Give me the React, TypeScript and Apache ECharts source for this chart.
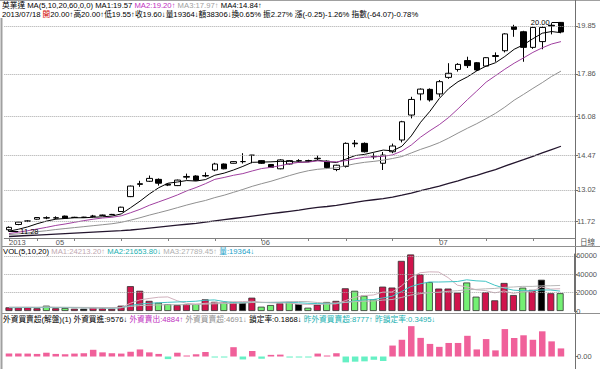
import React, { useEffect, useRef } from 'react';
import * as echarts from 'echarts';

const FONT = '"Liberation Sans", "Noto Sans CJK TC", sans-serif';

const dates = ['2013/04/24','2013/04/25','2013/04/26','2013/04/29','2013/04/30','2013/05/02','2013/05/03','2013/05/06','2013/05/07','2013/05/08','2013/05/09','2013/05/10','2013/05/13','2013/05/14','2013/05/15','2013/05/16','2013/05/17','2013/05/20','2013/05/21','2013/05/22','2013/05/23','2013/05/24','2013/05/27','2013/05/28','2013/05/29','2013/05/30','2013/05/31','2013/06/03','2013/06/04','2013/06/05','2013/06/06','2013/06/07','2013/06/10','2013/06/11','2013/06/13','2013/06/14','2013/06/17','2013/06/18','2013/06/19','2013/06/20','2013/06/21','2013/06/24','2013/06/25','2013/06/26','2013/06/27','2013/06/28','2013/07/01','2013/07/02','2013/07/03','2013/07/04','2013/07/05','2013/07/08','2013/07/09','2013/07/10','2013/07/11','2013/07/12','2013/07/15','2013/07/16','2013/07/17','2013/07/18'];

const monthLabelIdx = [0, 5, 27, 46];
const monthLabels = ['2013', '05', '06', '07'];
const weekTickIdx = [0, 3, 7, 12, 17, 22, 27, 32, 36, 41, 46, 51, 56];

// [open, close, low, high]
const ohlc = [
  [11.36, 11.46, 11.28, 11.50], [11.58, 11.68, 11.55, 11.70], [11.71, 11.73, 11.68, 11.76], [11.80, 11.87, 11.78, 11.88],
  [11.86, 11.85, 11.80, 11.92], [11.85, 11.86, 11.80, 11.92], [11.93, 11.84, 11.82, 11.95], [11.87, 11.88, 11.85, 11.90],
  [11.88, 11.88, 11.86, 11.90], [11.92, 11.93, 11.88, 11.98], [11.96, 11.97, 11.94, 11.99], [11.99, 12.00, 11.97, 12.02],
  [12.12, 12.30, 12.10, 12.32], [12.74, 13.18, 12.72, 13.20], [13.25, 13.28, 13.15, 13.40], [13.38, 13.50, 13.35, 13.62],
  [13.46, 13.30, 13.20, 13.50], [13.26, 13.22, 13.18, 13.28], [13.20, 13.43, 13.18, 13.45], [13.55, 13.58, 13.45, 13.70],
  [13.60, 13.42, 13.40, 13.63], [13.60, 13.62, 13.55, 13.75], [13.85, 14.10, 13.80, 14.15], [14.10, 13.90, 13.88, 14.12],
  [14.13, 14.20, 14.12, 14.22], [14.20, 14.20, 14.12, 14.55], [14.46, 14.47, 14.13, 14.48], [14.24, 14.13, 14.10, 14.26],
  [14.08, 13.96, 13.94, 14.10], [13.90, 14.27, 13.88, 14.30], [14.10, 14.24, 14.08, 14.26], [14.22, 14.24, 14.18, 14.30],
  [14.24, 14.22, 14.18, 14.28], [14.32, 14.34, 14.25, 14.45], [14.22, 13.95, 13.90, 14.25], [13.87, 14.05, 13.80, 14.07],
  [14.00, 14.96, 13.95, 15.00], [14.97, 14.94, 14.80, 15.10], [14.96, 14.61, 14.58, 15.00], [14.42, 14.40, 14.30, 14.55],
  [14.13, 14.47, 13.85, 14.60], [14.61, 14.85, 14.55, 14.95], [15.10, 15.86, 15.00, 15.90], [16.14, 16.79, 16.00, 16.90],
  [17.02, 17.22, 16.75, 17.25], [17.21, 16.77, 16.70, 17.25], [17.02, 17.53, 16.90, 17.60], [17.71, 17.88, 17.65, 18.30],
  [18.04, 18.25, 17.95, 18.30], [18.41, 18.20, 18.10, 18.57], [18.32, 18.02, 17.98, 18.35], [18.18, 18.53, 18.15, 18.55],
  [18.58, 18.62, 18.36, 18.75], [18.82, 19.52, 18.75, 19.55], [19.82, 19.71, 19.40, 19.90], [19.61, 18.96, 18.36, 19.65],
  [18.96, 19.79, 18.90, 19.82], [19.20, 19.79, 18.88, 19.85], [19.88, 19.85, 19.50, 19.97], [20.00, 19.60, 19.55, 20.00],
];

const ma5 = [11.30, 11.38, 11.48, 11.61, 11.72, 11.80, 11.83, 11.86, 11.86, 11.88, 11.90, 11.93, 12.02, 12.28, 12.55, 12.85, 13.11, 13.30, 13.35, 13.41, 13.39, 13.45, 13.63, 13.72, 13.85, 14.00, 14.17, 14.18, 14.19, 14.21, 14.21, 14.17, 14.19, 14.26, 14.20, 14.16, 14.30, 14.45, 14.50, 14.59, 14.68, 14.65, 14.84, 15.27, 15.84, 16.30, 16.83, 17.24, 17.53, 17.73, 17.98, 18.18, 18.32, 18.58, 18.88, 19.07, 19.32, 19.55, 19.62, 19.57];
const ma10 = [11.20, 11.26, 11.32, 11.39, 11.46, 11.54, 11.60, 11.67, 11.74, 11.80, 11.85, 11.88, 11.94, 12.07, 12.21, 12.38, 12.52, 12.66, 12.81, 12.98, 13.12, 13.28, 13.46, 13.54, 13.63, 13.70, 13.81, 13.91, 13.96, 14.03, 14.11, 14.17, 14.18, 14.23, 14.20, 14.19, 14.24, 14.32, 14.38, 14.40, 14.42, 14.48, 14.64, 14.89, 15.22, 15.49, 15.74, 16.04, 16.40, 16.78, 17.14, 17.51, 17.78, 18.05, 18.30, 18.52, 18.75, 18.94, 19.10, 19.20];
const ma20 = [11.16, 11.19, 11.23, 11.28, 11.32, 11.37, 11.41, 11.45, 11.49, 11.53, 11.57, 11.61, 11.67, 11.76, 11.86, 11.97, 12.07, 12.17, 12.28, 12.39, 12.49, 12.58, 12.70, 12.80, 12.92, 13.04, 13.17, 13.28, 13.38, 13.50, 13.62, 13.73, 13.82, 13.88, 13.91, 13.94, 14.03, 14.11, 14.17, 14.21, 14.26, 14.33, 14.41, 14.56, 14.71, 14.84, 14.99, 15.18, 15.39, 15.59, 15.78, 15.99, 16.21, 16.47, 16.76, 17.00, 17.25, 17.49, 17.75, 17.97];
const ma60 = [11.08, 11.10, 11.12, 11.14, 11.16, 11.18, 11.20, 11.22, 11.24, 11.26, 11.28, 11.30, 11.32, 11.35, 11.39, 11.43, 11.47, 11.51, 11.55, 11.59, 11.63, 11.68, 11.73, 11.78, 11.83, 11.88, 11.93, 11.98, 12.03, 12.08, 12.13, 12.18, 12.24, 12.29, 12.33, 12.38, 12.44, 12.50, 12.56, 12.61, 12.66, 12.72, 12.80, 12.89, 12.99, 13.08, 13.18, 13.29, 13.40, 13.52, 13.63, 13.75, 13.87, 14.01, 14.15, 14.28, 14.42, 14.56, 14.70, 14.84];

const priceTicks = [11.72, 13.02, 14.47, 16.08, 17.86, 19.85];
const priceHigh = 20.0;
const priceLow = 11.28;

const volume = [4000, 4000, 4000, 3000, 5800, 3000, 3300, 2500, 2500, 4000, 3000, 2500, 5800, 27000, 22000, 11000, 9000, 7500, 6500, 7500, 7500, 12700, 10000, 9800, 9800, 9000, 14500, 4700, 6500, 8400, 9800, 7600, 3600, 6900, 9800, 11000, 24700, 22000, 16700, 12700, 26500, 25500, 54500, 61500, 40000, 31451, 24400, 24400, 20000, 31000, 15600, 20400, 11600, 30500, 17372, 25400, 23000, 34000, 19302, 19364];
// r = up, g = down, k = unchanged
const volDir = ['r','r','r','r','g','r','g','r','k','r','r','r','r','r','r','r','g','g','r','r','g','r','r','g','r','k','r','g','g','r','g','k','g','r','g','r','r','g','g','g','r','r','r','r','r','g','r','r','r','g','g','r','r','r','r','g','r','k','r','g'];
const volMa5 = [3900, 4000, 4000, 3900, 4160, 3960, 3820, 3520, 3420, 3060, 3060, 2900, 3560, 8460, 12060, 13660, 14960, 15300, 11200, 8300, 7600, 8340, 8840, 9500, 9960, 10260, 10620, 9560, 8900, 8620, 8780, 7400, 7180, 7260, 7540, 7780, 11200, 14880, 16840, 17420, 20520, 20680, 27180, 36140, 41600, 42590, 42370, 36350, 28050, 26250, 23080, 22280, 19720, 21820, 19094, 21054, 21574, 26054, 23815, 24213];
const volMa10 = [3600, 3700, 3800, 3800, 3900, 3800, 3800, 3700, 3600, 3610, 3510, 3360, 3540, 5940, 7560, 8360, 8930, 9430, 9830, 10180, 10630, 11650, 12070, 10350, 9130, 8930, 9480, 9200, 9200, 9290, 9520, 9010, 8370, 8080, 8080, 8280, 9300, 11030, 12050, 12480, 14150, 15940, 21030, 26490, 29510, 31555, 31525, 31765, 32095, 33925, 32835, 32325, 28035, 24935, 22672, 22067, 21927, 22887, 22817, 21654];
const volMa20 = [4200, 4200, 4200, 4100, 4200, 4100, 4100, 4000, 3900, 3900, 3800, 3800, 3900, 4900, 5900, 6300, 6600, 6800, 6800, 6895, 7070, 7505, 7805, 8145, 8345, 8645, 9205, 9315, 9515, 9735, 10075, 10330, 10220, 9215, 8605, 8605, 9390, 10115, 10625, 10885, 11835, 12475, 14700, 17285, 18795, 19918, 20413, 21398, 22073, 23203, 23493, 24133, 24533, 25713, 26091, 26811, 26726, 27326, 27456, 27789];
const volTicks = [0, 20000, 40000, 60000];

const foreign = [1700, 1700, 1700, 1500, 2200, 1500, 1300, 1700, 1900, 3900, 2400, 1900, 1700, 2800, 4100, 2400, 1500, -1500, 2200, 200, 1300, 2600, -400, -400, 5400, -1700, 3200, -1300, 950, 1100, -600, -150, -150, 1700, 200, 1900, -3400, -3000, -2800, -1900, -2600, 6350, 9700, 17600, 10800, 7300, 5600, 7850, 7850, 12000, 4100, 10100, 3550, 15900, 10700, 12300, 9700, 14600, 8777, 4691];

const header1: [string, string][] = [
  ['英業達 MA(5,10,20,60,0,0) MA1:19.57 ', 'k'],
  ['MA2:19.20↑ ', 'm2'],
  ['MA3:17.97↑ ', 'm3'],
  ['MA4:14.84↑', 'k'],
];
const header2: [string, string][] = [
  ['2013/07/18 ', 'k'],
  ['開', 'r'],
  ['20.00↑高20.00↑低19.55↑收19.60↓量19364↓額38306↓換0.65% 振2.27% 漲(-0.25)-1.26% 指數(-64.07)-0.78%', 'k'],
];
const volHeader: [string, string][] = [
  ['VOL(5,10,20) ', 'k'],
  ['MA1:24213.20↑ ', 'v1'],
  ['MA2:21653.80↓ ', 'v2'],
  ['MA3:27789.45↑ ', 'v3'],
  ['量:19364↓', 'v4'],
];
const fHeader: [string, string][] = [
  ['外資買賣超(解盤)(1) 外資買進:9576↓ ', 'k'],
  ['外資賣出:4884↑ ', 'm2'],
  ['外資買賣超:4691↓ ', 'g'],
  ['鎖定率:0.1868↓ ', 'k'],
  ['昨外資買賣超:8777↑ ', 't'],
  ['昨鎖定率:0.3495↓', 't'],
];

const FS = 7.7;
const rich = {
  k: { fill: '#000', fontSize: FS, fontFamily: FONT },
  r: { fill: '#d00000', fontSize: FS, fontFamily: FONT },
  m2: { fill: '#c030c0', fontSize: FS, fontFamily: FONT },
  m3: { fill: '#a0a0a0', fontSize: FS, fontFamily: FONT },
  g: { fill: '#909090', fontSize: FS, fontFamily: FONT },
  t: { fill: '#20b0b0', fontSize: FS, fontFamily: FONT },
  v1: { fill: '#c0a8b0', fontSize: FS, fontFamily: FONT },
  v2: { fill: '#20b0b0', fontSize: FS, fontFamily: FONT },
  v3: { fill: '#b0b0b0', fontSize: FS, fontFamily: FONT },
  v4: { fill: '#20a0c8', fontSize: FS, fontFamily: FONT },
};
const toRich = (segs: [string, string][]) => segs.map(([t, s]) => `{${s}|${t}}`).join('');

const headerText = (segs: [string, string][], x: number, y: number) => ({
  type: 'text', x, y, silent: true,
  style: { text: toRich(segs), rich, fontSize: FS, fontFamily: FONT, verticalAlign: 'middle', align: 'left' },
});
const hline = (y: number, x1 = 2, x2 = 600, color = '#909090') => ({
  type: 'line', silent: true, shape: { x1, y1: y, x2, y2: y }, style: { stroke: color, lineWidth: 1 },
});
const vline = (x: number, y1: number, y2: number, color = '#808080', w = 1) => ({
  type: 'line', silent: true, shape: { x1: x, y1, x2: x, y2 }, style: { stroke: color, lineWidth: w },
});

const cats = [...dates, ''];
const GL = 4.3, GR = 25;

function buildOption() {
  const hiddenX = (gridIndex: number) => ({
    type: 'category', gridIndex, data: cats, boundaryGap: true,
    axisLine: { show: false }, axisTick: { show: false }, axisLabel: { show: false }, splitLine: { show: false },
  });
  const axisLabelBase = { fontSize: 7.5, color: '#555', fontFamily: FONT, margin: 2 };
  const dotted = { type: 'dotted', color: '#a8a8a8', width: 1 };
  const lineS = (data: number[], xi: number, color: string, width = 1) => ({
    type: 'line', xAxisIndex: xi, yAxisIndex: xi, data, symbol: 'none', silent: true,
    connectNulls: true, lineStyle: { color, width }, z: 3,
  });
  const volFill: Record<string, string> = { r: '#d0144c', g: '#74f074', k: '#000000' };

  return {
    animation: false,
    backgroundColor: '#ffffff',
    textStyle: { fontFamily: FONT },
    grid: [
      { left: GL, right: GR, top: 18, height: 220 },
      { left: GL, right: GR, top: 254, height: 57 },
      { left: GL, right: GR, top: 322, height: 44 },
    ],
    xAxis: [
      {
        type: 'category', gridIndex: 0, data: cats, boundaryGap: true,
        axisLine: { show: true, lineStyle: { color: '#808080' } },
        axisTick: {
          show: true, alignWithLabel: true, length: 3, lineStyle: { color: '#808080' },
          interval: (i: number) => weekTickIdx.includes(i),
        },
        axisLabel: {
          ...axisLabelBase, margin: 1, align: 'left',
          interval: (i: number) => monthLabelIdx.includes(i),
          formatter: (_v: string, i: number) => {
            const k = monthLabelIdx.indexOf(i);
            return k >= 0 ? monthLabels[k] : '';
          },
        },
        splitLine: { show: false },
      },
      hiddenX(1),
      hiddenX(2),
    ],
    yAxis: [
      {
        type: 'value', gridIndex: 0, position: 'right', min: 11.0167, max: 20.1833, scale: true,
        axisLine: { show: true, lineStyle: { color: '#707070' } },
        axisTick: { show: true, length: 3, lineStyle: { color: '#707070' }, customValues: priceTicks },
        axisLabel: { ...axisLabelBase, customValues: priceTicks, formatter: (v: number) => v.toFixed(2) },
        splitLine: { show: false },
      },
      {
        type: 'value', gridIndex: 1, position: 'right', min: 0, max: 62000,
        axisLine: { show: true, lineStyle: { color: '#707070' } },
        axisTick: { show: true, length: 3, lineStyle: { color: '#707070' }, customValues: volTicks },
        axisLabel: { ...axisLabelBase, customValues: volTicks, formatter: (v: number) => String(v) },
        splitLine: { show: false },
      },
      {
        type: 'value', gridIndex: 2, position: 'right', min: -5500, max: 20000,
        axisLine: { show: true, lineStyle: { color: '#707070' } },
        axisTick: { show: true, length: 3, lineStyle: { color: '#707070' }, customValues: [0] },
        axisLabel: { ...axisLabelBase, customValues: [0], formatter: (v: number) => v.toFixed(2) },
        splitLine: { show: false },
      },
    ],
    series: [
      {
        type: 'candlestick', xAxisIndex: 0, yAxisIndex: 0, barWidth: 6,
        data: ohlc.map(([o, c, l, h]) => [o, c, l, h]),
        itemStyle: { color: '#ffffff', color0: '#000000', borderColor: '#000000', borderColor0: '#000000', borderColorDoji: '#000000', borderWidth: 1 },
        markLine: {
          silent: true, symbol: ['none', 'none'], animation: false,
          data: [
            ...priceTicks.map((v) => ({ yAxis: v, lineStyle: dotted, label: { show: false } })),
            [
              { coord: [dates[58], priceHigh], lineStyle: { type: 'solid', color: '#000', width: 1 },
                label: { show: true, position: 'start', formatter: priceHigh.toFixed(2), fontSize: 7.5, color: '#000', fontFamily: FONT, distance: 2 } },
              { coord: [dates[59], priceHigh] },
            ],
            [
              { coord: [dates[0], priceLow], lineStyle: { type: 'solid', color: '#000', width: 1 },
                label: { show: true, position: 'end', formatter: priceLow.toFixed(2), fontSize: 7.5, color: '#000', fontFamily: FONT, distance: 2 } },
              { coord: [dates[1], priceLow] },
            ],
          ],
        },
        z: 2,
      },
      lineS(ma5, 0, '#000000'),
      lineS(ma10, 0, '#a040a0'),
      lineS(ma20, 0, '#909090'),
      lineS(ma60, 0, '#24162e', 1.3),
      {
        type: 'bar', xAxisIndex: 1, yAxisIndex: 1, barWidth: 7,
        data: volume.map((v, i) => ({ value: v, itemStyle: { color: volFill[volDir[i]] } })),
        itemStyle: { borderColor: '#303030', borderWidth: 0.8 },
        markLine: {
          silent: true, symbol: ['none', 'none'], animation: false,
          data: volTicks.filter((v) => v > 0).map((v) => ({ yAxis: v, lineStyle: dotted, label: { show: false } })),
        },
        z: 2,
      },
      lineS(volMa5, 1, '#d0b0bc'),
      lineS(volMa10, 1, '#40c4c4'),
      lineS(volMa20, 1, '#b8b8b8'),
      {
        type: 'bar', xAxisIndex: 2, yAxisIndex: 2, barWidth: 6.5, barMinHeight: 1,
        data: foreign.map((v) => ({ value: v, itemStyle: { color: v >= 0 ? '#f0609a' : '#66f0c4' } })),
        z: 2,
      },
    ],
    graphic: [
      hline(0.5, 0, 600, '#a0a0a0'),
      vline(1.5, 18, 369, '#a0a0a0', 2),
      vline(575.5, 0, 369, '#707070'),
      hline(246.5),
      hline(313.5),
      headerText(header1, 2, 5),
      headerText(header2, 2, 14),
      headerText(volHeader, 3, 251),
      headerText(fHeader, 3, 319),
      {
        type: 'text', x: 580, y: 242, silent: true,
        style: { text: '日線', fontSize: 7.5, fontFamily: FONT, fill: '#555', verticalAlign: 'middle' },
      },
    ],
  };
}

export default function App() {
  const ref = useRef<HTMLDivElement>(null);
  useEffect(() => {
    if (!ref.current) return;
    const chart = echarts.init(ref.current, null, { renderer: 'svg' });
    chart.setOption(buildOption() as any);
    return () => chart.dispose();
  }, []);
  return (
    <div
      ref={ref}
      style={{ position: 'absolute', left: 0, top: 0, width: 600, height: 369, background: '#fff' }}
    />
  );
}
